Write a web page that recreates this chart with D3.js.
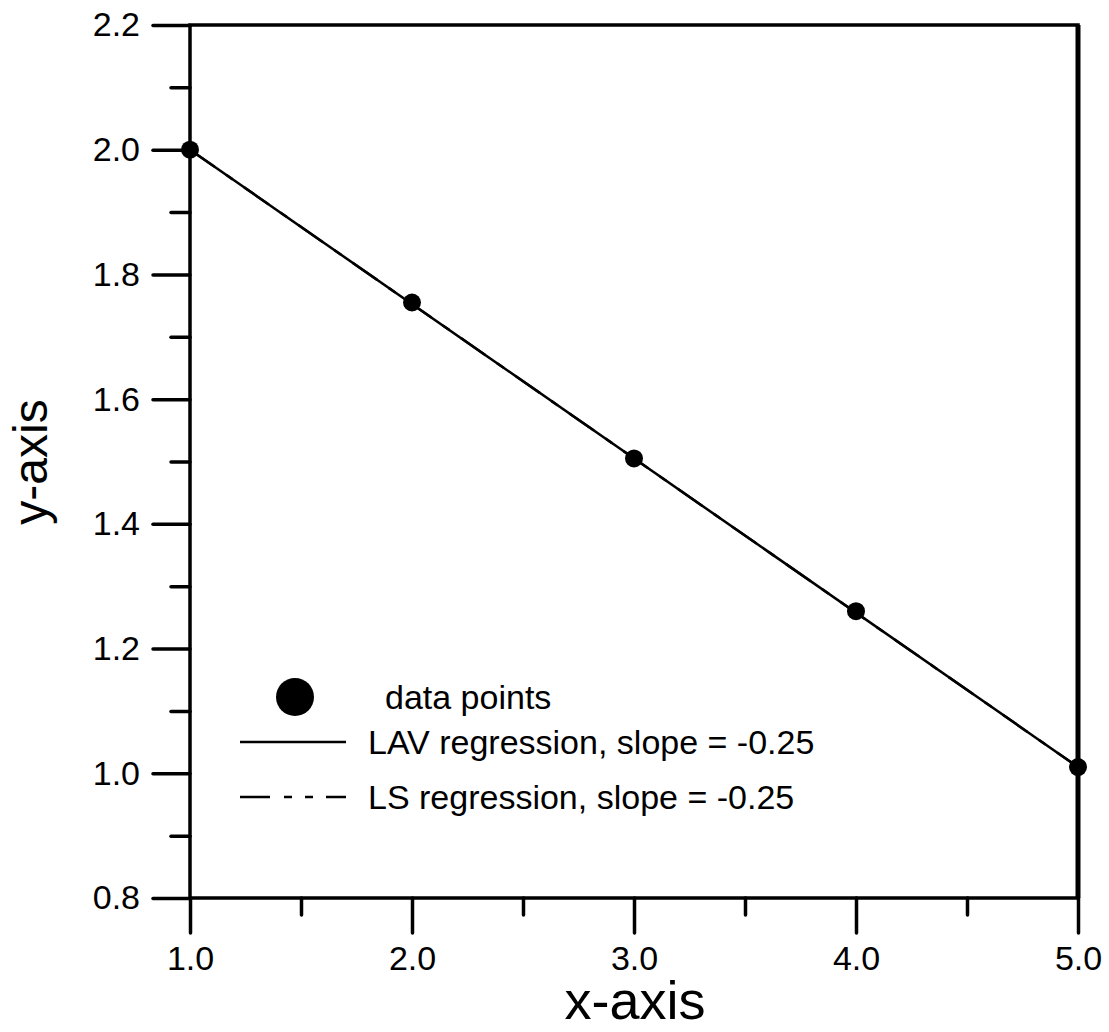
<!DOCTYPE html>
<html>
<head>
<meta charset="utf-8">
<script src="https://cdn.jsdelivr.net/npm/d3@7"></script>
<style>
  body { margin: 0; background: #fff; }
  svg { display: block; font-family: "Liberation Sans", Arial, sans-serif; }
</style>
</head>
<body>
<script>
// data
const xValues = [1, 2, 3, 4, 5];
const yValues = [2.0, 1.755, 1.505, 1.26, 1.01];
// regression lines (both slope -0.25, they overlap)
const lavLine = [[1, 2.0], [5, 1.01]];
const lsLine = [[1, 2.0], [5, 1.01]];
const xTicks = [1, 2, 3, 4, 5];
const xMinor = [1.5, 2.5, 3.5, 4.5];
const yTicks = [0.8, 1.0, 1.2, 1.4, 1.6, 1.8, 2.0, 2.2];
const yMinor = [0.9, 1.1, 1.3, 1.5, 1.7, 1.9, 2.1];
const legendItems = [
  { type: "dot", label: "data points" },
  { type: "solid", label: "LAV regression, slope = -0.25" },
  { type: "dash", label: "LS regression, slope = -0.25" }
];

const width = 1109;
const height = 1032;

const svg = d3.select("body")
  .append("svg")
  .attr("width", width)
  .attr("height", height);

const x = d3.scaleLinear().domain([1, 5]).range([190, 1078]);
const y = d3.scaleLinear().domain([0.8, 2.2]).range([898, 25]);

// y axis, outward ticks on the left
const yAxis = svg.append("g")
  .attr("transform", "translate(" + x(1) + ",0)")
  .call(d3.axisLeft(y).tickValues(yTicks).tickSize(37).tickPadding(13)
    .tickFormat(d3.format(".1f")));
yAxis.append("g")
  .call(d3.axisLeft(y).tickValues(yMinor).tickSize(19).tickFormat(""));

// x axis, outward ticks below
const xAxis = svg.append("g")
  .attr("transform", "translate(0," + y(0.8) + ")")
  .call(d3.axisBottom(x).tickValues(xTicks).tickSize(35).tickPadding(13)
    .tickFormat(d3.format(".1f")));
xAxis.append("g")
  .call(d3.axisBottom(x).tickValues(xMinor).tickSize(17).tickFormat(""));

svg.selectAll(".domain").remove();
svg.selectAll(".tick line")
  .attr("stroke", "#000")
  .attr("stroke-width", 3.5)
  .attr("stroke-linecap", "round");
svg.selectAll(".tick text")
  .attr("fill", "#000")
  .attr("font-size", 34)
  .style("font-size", "34px");

// frame
svg.append("rect")
  .attr("x", x(1))
  .attr("y", y(2.2))
  .attr("width", x(5) - x(1))
  .attr("height", y(0.8) - y(2.2))
  .attr("fill", "none")
  .attr("stroke", "#000")
  .attr("stroke-width", 3.5);
svg.append("line")
  .attr("x1", x(5)).attr("x2", x(5))
  .attr("y1", y(2.2)).attr("y2", y(0.8))
  .attr("stroke", "#000")
  .attr("stroke-width", 5);

const line = d3.line()
  .x(d => x(d[0]))
  .y(d => y(d[1]));

svg.append("path")
  .datum(lsLine)
  .attr("d", line)
  .attr("fill", "none")
  .attr("stroke", "#000")
  .attr("stroke-width", 2.5)
  .attr("stroke-dasharray", "30,14,8,14");

svg.append("path")
  .datum(lavLine)
  .attr("d", line)
  .attr("fill", "none")
  .attr("stroke", "#000")
  .attr("stroke-width", 2.5);

svg.append("g")
  .selectAll("circle")
  .data(xValues.map((d, i) => [d, yValues[i]]))
  .join("circle")
  .attr("cx", d => x(d[0]))
  .attr("cy", d => y(d[1]))
  .attr("r", 9)
  .attr("fill", "#000");

// legend
const legend = svg.append("g");
const rowY = [697, 742, 797];
legendItems.forEach((item, i) => {
  const g = legend.append("g").attr("transform", "translate(0," + rowY[i] + ")");
  if (item.type === "dot") {
    g.append("circle").attr("cx", 295).attr("cy", 0).attr("r", 19).attr("fill", "#000");
  } else {
    g.append("line")
      .attr("x1", 240).attr("x2", 346)
      .attr("y1", 0).attr("y2", 0)
      .attr("stroke", "#000")
      .attr("stroke-width", 2.5)
      .attr("stroke-dasharray", item.type === "dash" ? "30,14,8,13,8,13" : null);
  }
  g.append("text")
    .attr("x", i === 0 ? 385 : 368)
    .attr("y", 0)
    .attr("dy", "0.35em")
    .style("font-size", "34px")
    .text(item.label);
});

// axis titles
svg.append("text")
  .attr("x", 635)
  .attr("y", 1019)
  .attr("text-anchor", "middle")
  .style("font-size", "54px")
  .text("x-axis");

svg.append("text")
  .attr("transform", "translate(47,462) rotate(-90)")
  .attr("text-anchor", "middle")
  .style("font-size", "48px")
  .text("y-axis");
</script>
</body>
</html>
